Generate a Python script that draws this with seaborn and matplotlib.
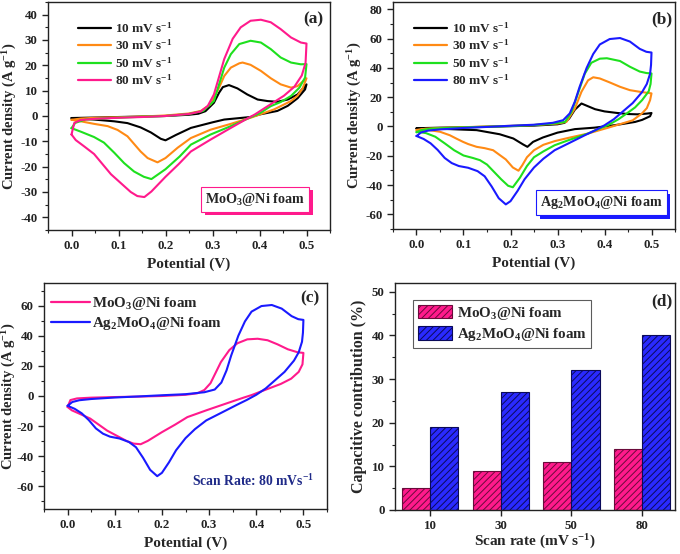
import numpy as np
import pandas as pd
import matplotlib
matplotlib.use("Agg")
import matplotlib.pyplot as plt
import matplotlib.patches as mpatches
import matplotlib.patheffects as pe
from matplotlib.ticker import MultipleLocator
import seaborn as sns

# ---------------- data ----------------
# (a) MoO3@Ni foam, potential (V) / current density (A g-1), loop order
a10_v = [0.0, 0.05, 0.10, 0.15, 0.20, 0.25, 0.27, 0.285, 0.303, 0.314, 0.322, 0.335, 0.353, 0.374, 0.396, 0.417, 0.438, 0.46, 0.481, 0.5,
         0.497, 0.481, 0.46, 0.438, 0.40, 0.381, 0.325, 0.30, 0.254, 0.222, 0.20, 0.19, 0.169, 0.147, 0.119, 0.091, 0.048, 0.0]
a10_i = [-0.8, -0.6, -0.4, -0.2, 0.0, 0.5, 0.9, 1.9, 5.2, 9.2, 11.4, 12.2, 10.9, 8.5, 6.5, 5.9, 5.6, 6.5, 8.5, 12.5,
         10.5, 7.0, 4.0, 2.0, 0.6, -0.4, -1.4, -2.5, -4.7, -7.5, -9.6, -9.0, -6.5, -4.5, -2.8, -2.1, -1.4, -0.8]

a30_v = [0.0, 0.02, 0.05, 0.10, 0.15, 0.20, 0.25, 0.275, 0.296, 0.314, 0.325, 0.339, 0.357, 0.364, 0.381, 0.403, 0.424, 0.445, 0.467, 0.481, 0.492, 0.5,
         0.492, 0.481, 0.467, 0.431, 0.381, 0.339, 0.296, 0.254, 0.226, 0.20, 0.183, 0.162, 0.147, 0.133, 0.119, 0.098, 0.077, 0.048, 0.02, 0.0]
a30_i = [-1.5, -1.0, -0.7, -0.5, -0.2, 0.2, 1.0, 2.0, 4.6, 11.2, 15.8, 19.1, 20.8, 21.1, 20.2, 17.8, 14.9, 12.5, 11.2, 11.8, 13.6, 14.9,
         11.0, 8.0, 5.9, 2.6, -0.7, -3.1, -5.4, -8.7, -12.5, -16.6, -18.3, -16.6, -14.0, -11.0, -8.0, -5.5, -4.0, -3.1, -2.1, -1.5]

a50_v = [0.0, 0.008, 0.03, 0.08, 0.15, 0.20, 0.25, 0.28, 0.303, 0.314, 0.325, 0.339, 0.357, 0.381, 0.403, 0.424, 0.445, 0.467, 0.488, 0.5,
         0.497, 0.485, 0.467, 0.445, 0.424, 0.40, 0.381, 0.339, 0.296, 0.254, 0.23, 0.20, 0.17, 0.154, 0.133, 0.112, 0.091, 0.069, 0.048, 0.02, 0.0]
a50_i = [-4.8, -2.7, -1.4, -0.8, -0.3, 0.0, 0.8, 2.0, 5.9, 12.5, 19.1, 24.4, 28.4, 29.7, 29.0, 26.4, 23.1, 21.1, 20.4, 20.5,
         15.2, 11.2, 7.9, 5.5, 3.9, 1.0, -0.5, -4.0, -7.3, -11.3, -16.0, -21.0, -24.9, -24.0, -21.9, -18.6, -14.5, -10.5, -8.3, -6.2, -4.8]

a80_v = [0.0, 0.006, 0.02, 0.05, 0.10, 0.15, 0.20, 0.25, 0.275, 0.29, 0.303, 0.314, 0.325, 0.343, 0.36, 0.381, 0.403, 0.424, 0.445, 0.467, 0.488, 0.5,
         0.498, 0.49, 0.474, 0.452, 0.431, 0.41, 0.39, 0.374, 0.339, 0.296, 0.254, 0.228, 0.20, 0.17, 0.155, 0.14, 0.126, 0.105, 0.084, 0.066, 0.048, 0.027, 0.009, 0.0]
a80_i = [-7.3, -2.7, -1.6, -1.1, -0.7, -0.4, 0.0, 0.8, 1.8, 4.0, 8.5, 15.5, 22.5, 30.5, 35.0, 37.6, 38.0, 37.0, 34.3, 31.0, 29.0, 28.6,
         21.0, 16.0, 11.5, 8.0, 5.5, 3.0, 0.6, -1.0, -4.7, -9.3, -14.0, -19.0, -24.0, -29.8, -32.0, -31.6, -30.0, -26.5, -23.0, -19.0, -15.0, -12.0, -9.5, -7.3]

# (b) Ag2MoO4@Ni foam
b10_v = [0.0, 0.05, 0.10, 0.15, 0.20, 0.25, 0.30, 0.315, 0.325, 0.337, 0.351, 0.365, 0.38, 0.40, 0.425, 0.45, 0.47, 0.49, 0.5,
         0.497, 0.48, 0.465, 0.44, 0.422, 0.379, 0.337, 0.30, 0.269, 0.248, 0.236, 0.227, 0.206, 0.177, 0.128, 0.071, 0.0]
b10_i = [-1.2, -0.8, -0.5, -0.2, 0.2, 0.6, 1.5, 2.5, 5.5, 11.5, 15.7, 13.8, 11.8, 10.3, 9.3, 8.5, 8.3, 8.8, 9.2,
         7.0, 4.5, 3.1, 1.8, 0.9, -0.8, -1.8, -4.2, -7.5, -10.5, -13.9, -12.3, -8.2, -5.3, -2.5, -1.8, -1.3]

b30_v = [0.0, 0.02, 0.05, 0.10, 0.15, 0.20, 0.25, 0.30, 0.319, 0.337, 0.351, 0.365, 0.376, 0.39, 0.411, 0.433, 0.454, 0.475, 0.5,
         0.497, 0.49, 0.48, 0.46, 0.43, 0.408, 0.365, 0.323, 0.294, 0.27, 0.25, 0.235, 0.225, 0.217, 0.205, 0.19, 0.175, 0.163, 0.145,
         0.128, 0.11, 0.099, 0.085, 0.071, 0.05, 0.021, 0.0]
b30_i = [-2.5, -1.5, -1.0, -0.5, 0.0, 0.4, 1.0, 2.0, 3.1, 12.3, 23.7, 31.5, 33.6, 32.8, 30.1, 27.1, 24.8, 23.7, 22.6,
         18.0, 12.5, 9.0, 4.2, 1.3, -0.8, -4.8, -7.8, -10.0, -12.5, -16.2, -21.0, -26.5, -30.2, -28.0, -22.5, -19.0, -16.2, -14.8,
         -13.9, -12.0, -10.5, -8.3, -6.0, -3.6, -2.2, -2.3]

b50_v = [0.0, 0.01, 0.03, 0.08, 0.15, 0.20, 0.25, 0.29, 0.316, 0.33, 0.344, 0.358, 0.372, 0.39, 0.405, 0.433, 0.454, 0.475, 0.489, 0.5,
         0.498, 0.494, 0.48, 0.465, 0.45, 0.43, 0.408, 0.385, 0.365, 0.323, 0.294, 0.27, 0.25, 0.235, 0.22, 0.205, 0.195, 0.18, 0.165,
         0.15, 0.135, 0.12, 0.10, 0.08, 0.06, 0.04, 0.02, 0.0]
b50_i = [-4.0, -2.5, -1.5, -0.8, -0.2, 0.3, 1.0, 2.0, 3.1, 10.0, 23.0, 36.0, 43.5, 46.3, 46.6, 44.7, 40.8, 37.5, 36.5, 36.2,
         29.0, 24.0, 18.0, 13.0, 9.5, 5.0, 1.0, -2.0, -4.8, -9.4, -12.8, -17.0, -21.0, -27.0, -35.0, -41.5, -40.5, -36.0, -31.0,
         -26.0, -23.0, -21.5, -19.8, -16.2, -11.5, -7.0, -4.5, -3.6]

b80_v = [0.0, 0.01, 0.025, 0.05, 0.10, 0.15, 0.20, 0.25, 0.29, 0.312, 0.326, 0.337, 0.347, 0.362, 0.376, 0.39, 0.411, 0.433, 0.454, 0.475, 0.489, 0.5,
         0.499, 0.497, 0.49, 0.48, 0.46, 0.44, 0.42, 0.40, 0.38, 0.358, 0.323, 0.294, 0.27, 0.25, 0.23, 0.215, 0.20, 0.19, 0.175,
         0.16, 0.145, 0.13, 0.11, 0.09, 0.075, 0.06, 0.045, 0.03, 0.015, 0.0]
b80_i = [-6.5, -4.0, -2.8, -2.0, -1.0, -0.3, 0.5, 1.2, 2.5, 4.3, 8.9, 17.0, 27.0, 40.0, 49.5, 56.0, 59.7, 60.4, 58.0, 53.0, 51.0, 50.5,
         42.0, 36.0, 29.0, 23.5, 16.0, 10.5, 5.0, 0.8, -2.6, -6.0, -11.6, -16.2, -22.0, -28.0, -36.0, -44.0, -51.0, -53.2, -49.0,
         -41.0, -34.0, -30.5, -28.2, -27.0, -25.0, -21.5, -16.0, -11.5, -8.5, -6.5]

rate_labels = ["10 mV s$^{-1}$", "30 mV s$^{-1}$", "50 mV s$^{-1}$", "80 mV s$^{-1}$"]
materials = ["MoO$_3$@Ni foam", "Ag$_2$MoO$_4$@Ni foam"]

# (d) capacitive contribution (%)
scan_rates = ["10", "30", "50", "80"]
moo3_cap = [5, 9, 11, 14]
ag_cap = [19, 27, 32, 40]

# ---------------- style ----------------
sns.set_style("ticks")
plt.rcParams.update({
    "font.family": ["Liberation Serif", "DejaVu Serif"],
    "font.weight": "bold",
    "axes.labelweight": "bold",
    "axes.unicode_minus": False,
    "mathtext.fontset": "custom",
    "mathtext.rm": "Liberation Serif:bold",
    "mathtext.it": "Liberation Serif:bold:italic",
    "mathtext.bf": "Liberation Serif:bold",
    "mathtext.default": "rm",
    "axes.linewidth": 1.0,
    "axes.edgecolor": "#222222",
    "xtick.major.size": 4, "ytick.major.size": 4,
    "xtick.minor.size": 2.2, "ytick.minor.size": 2.2,
    "xtick.major.width": 1.0, "ytick.major.width": 1.0,
    "xtick.minor.width": 0.8, "ytick.minor.width": 0.8,
    "xtick.color": "#222222", "ytick.color": "#222222",
    "hatch.linewidth": 0.7,
})

C_BLACK, C_ORANGE, C_GREEN, C_PINK, C_BLUE = "#000000", "#ff8a14", "#1ee01e", "#ff1a8c", "#1a1aff"

W, H = 680, 554
fig = plt.figure(figsize=(W / 100, H / 100), dpi=100)


def px_axes(l, t, r, b):
    return fig.add_axes([l / W, 1 - b / H, (r - l) / W, (b - t) / H])


ax_a = px_axes(48, 2, 330, 230)
ax_b = px_axes(393, 2, 675, 229)
ax_c = px_axes(44, 283, 327, 509)
ax_d = px_axes(395, 283, 675, 510)


def cv_frame(curves):
    rows = []
    for lab, v, i in curves:
        for k, (vv, ii) in enumerate(zip(v, i)):
            rows.append({"V": vv, "I": ii, "series": lab, "k": k})
    return pd.DataFrame(rows)


def style_cv(ax, ylim, ymaj, ymin):
    ax.set_xlim(-0.05, 0.55)
    ax.set_ylim(*ylim)
    ax.xaxis.set_major_locator(MultipleLocator(0.1))
    ax.xaxis.set_minor_locator(MultipleLocator(0.05))
    ax.yaxis.set_major_locator(MultipleLocator(ymaj))
    ax.yaxis.set_minor_locator(MultipleLocator(ymin))
    ax.tick_params(which="both", direction="out", labelsize=9.3)
    ax.set_xlabel("Potential (V)", fontsize=11, labelpad=4)
    ax.set_ylabel("Current density (A g$^{-1}$)", fontsize=10.5, labelpad=1)
    for s in ax.spines.values():
        s.set_visible(True)


def shadow_box(ax, x, y, text, color):
    t = ax.text(x, y, text, transform=ax.transAxes, ha="center", va="center",
                fontsize=10.2, fontweight="bold",
                bbox=dict(boxstyle="square,pad=0.28", fc="white", ec=color, lw=0.8))
    t.get_bbox_patch().set_path_effects([
        pe.SimplePatchShadow(offset=(2.5, -2.5), shadow_rgbFace=color, alpha=1.0),
        pe.Normal()])
    return t


def cv_legend(ax, anchor):
    sns.move_legend(ax, "upper left", bbox_to_anchor=anchor, frameon=False, title=None,
                    fontsize=9.5, handlelength=2.5, labelspacing=0.22, handletextpad=0.35,
                    borderaxespad=0, borderpad=0)
    for ln in ax.get_legend().get_lines():
        ln.set_linewidth(1.6)


# ---------- (a) ----------
dfa = cv_frame([(rate_labels[0], a10_v, a10_i), (rate_labels[1], a30_v, a30_i),
                (rate_labels[2], a50_v, a50_i), (rate_labels[3], a80_v, a80_i)])
pal4a = dict(zip(rate_labels, [C_BLACK, C_ORANGE, C_GREEN, C_PINK]))
sns.lineplot(data=dfa, x="V", y="I", hue="series", hue_order=rate_labels, palette=pal4a,
             sort=False, estimator=None, lw=1.5, ax=ax_a)
style_cv(ax_a, (-45, 45), 10, 5)
cv_legend(ax_a, (0.105, 0.918))
ax_a.text(0.975, 0.925, "(a)", transform=ax_a.transAxes, ha="right", va="center", fontsize=12.5, fontweight="bold")
shadow_box(ax_a, 0.735, 0.135, materials[0], C_PINK)

# ---------- (b) ----------
dfb = cv_frame([(rate_labels[0], b10_v, b10_i), (rate_labels[1], b30_v, b30_i),
                (rate_labels[2], b50_v, b50_i), (rate_labels[3], b80_v, b80_i)])
pal4b = dict(zip(rate_labels, [C_BLACK, C_ORANGE, C_GREEN, C_BLUE]))
sns.lineplot(data=dfb, x="V", y="I", hue="series", hue_order=rate_labels, palette=pal4b,
             sort=False, estimator=None, lw=1.5, ax=ax_b)
style_cv(ax_b, (-70, 85), 20, 10)
cv_legend(ax_b, (0.075, 0.918))
ax_b.text(0.99, 0.925, "(b)", transform=ax_b.transAxes, ha="right", va="center", fontsize=12.5, fontweight="bold")
shadow_box(ax_b, 0.74, 0.115, materials[1], C_BLUE)

# ---------- (c) ----------
dfc = cv_frame([(materials[0], a80_v, a80_i), (materials[1], b80_v, b80_i)])
sns.lineplot(data=dfc, x="V", y="I", hue="series", hue_order=materials,
             palette=dict(zip(materials, [C_PINK, C_BLUE])),
             sort=False, estimator=None, lw=1.5, ax=ax_c)
style_cv(ax_c, (-75, 75), 20, 10)
ax_c.set_ylabel("Current density (A g$^{-1}$)", fontsize=10.5, labelpad=-1)
sns.move_legend(ax_c, "upper left", bbox_to_anchor=(0.025, 0.948), frameon=False, title=None,
                fontsize=10.8, handlelength=2.6, labelspacing=0.2, handletextpad=0.1,
                borderaxespad=0, borderpad=0)
for ln in ax_c.get_legend().get_lines():
    ln.set_linewidth(1.6)
ax_c.text(0.973, 0.934, "(c)", transform=ax_c.transAxes, ha="right", va="center", fontsize=12.5, fontweight="bold")
ax_c.text(0.74, 0.125, "Scan Rate: 80 mVs$^{-1}$", transform=ax_c.transAxes, ha="center", va="center",
          fontsize=9.8, fontweight="bold", color="#1f2a88")

# ---------- (d) ----------
dfd = pd.DataFrame({
    "rate": scan_rates * 2,
    "val": moo3_cap + ag_cap,
    "mat": [materials[0]] * len(scan_rates) + [materials[1]] * len(scan_rates),
})
bar_cols = [C_PINK, "#2a2aff"]
hatch_cols = ["#6a0a3a", "#0a0a5a"]
sns.barplot(data=dfd, x="rate", y="val", hue="mat", hue_order=materials, order=scan_rates,
            palette=bar_cols, width=0.8, gap=0, ax=ax_d, legend=False, errorbar=None)
for cont, fc, hc in zip(ax_d.containers, bar_cols, hatch_cols):
    for bar in cont:
        bar.set_facecolor(fc)
        bar.set_edgecolor(hc)
        bar.set_hatch("/////")
        bar.set_linewidth(0.8)
ax_d.set_xlim(-0.5, 3.47)
ax_d.set_ylim(0, 52)
ax_d.yaxis.set_major_locator(MultipleLocator(10))
ax_d.yaxis.set_minor_locator(MultipleLocator(5))
ax_d.tick_params(which="both", direction="out", labelsize=9.3)
ax_d.set_xlabel("Scan rate (mV s$^{-1}$)", fontsize=11, labelpad=0)
ax_d.set_ylabel("Capacitive contribution (%)", fontsize=11.5, labelpad=3)
for s in ax_d.spines.values():
    s.set_visible(True)
handles = [mpatches.Patch(facecolor=fc, edgecolor=hc, hatch="/////", lw=0.8)
           for fc, hc in zip(bar_cols, hatch_cols)]
leg = ax_d.legend(handles, materials, loc="upper left", bbox_to_anchor=(0.065, 0.925), fontsize=10.8,
                  frameon=True, fancybox=False, edgecolor="#333333", handlelength=2.3, handleheight=1.05,
                  labelspacing=0.3, handletextpad=0.3, borderpad=0.3, borderaxespad=0)
leg.get_frame().set_linewidth(0.8)
ax_d.text(0.99, 0.919, "(d)", transform=ax_d.transAxes, ha="right", va="center", fontsize=12.5, fontweight="bold")

fig.savefig("out.png", dpi=100)
